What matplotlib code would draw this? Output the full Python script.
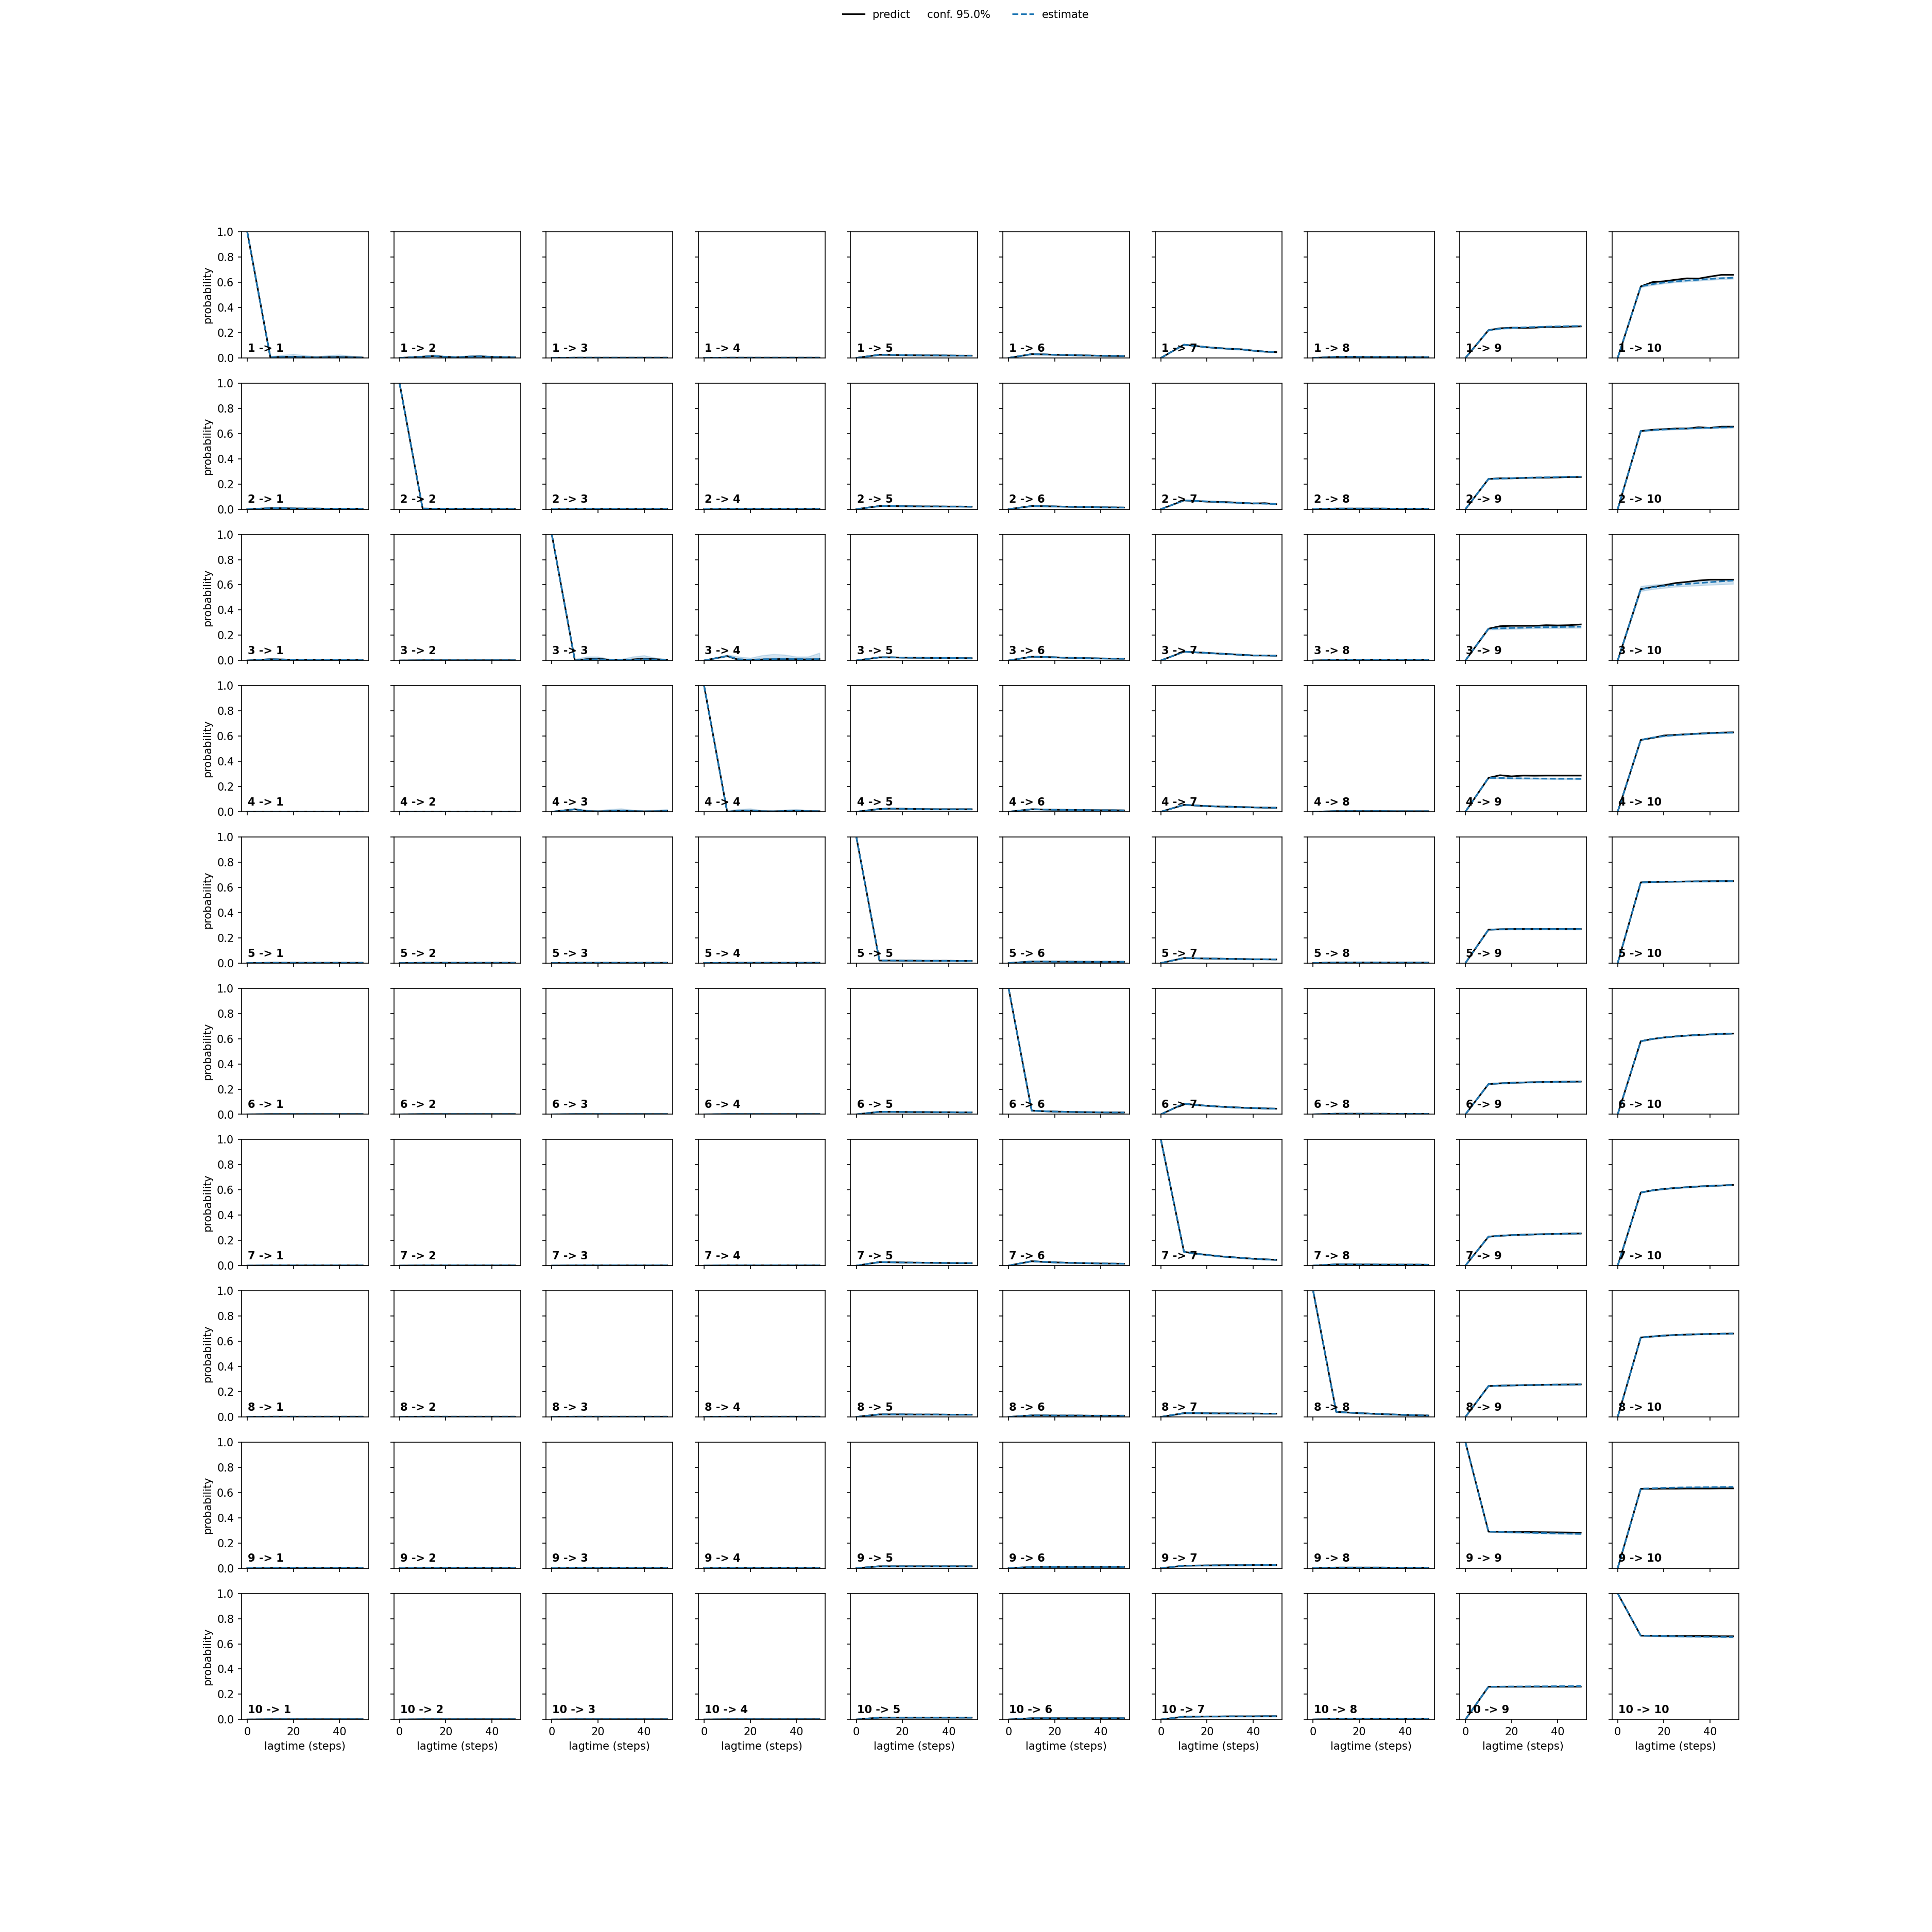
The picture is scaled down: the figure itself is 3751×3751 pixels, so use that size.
import matplotlib
matplotlib.use('Agg')
import matplotlib.pyplot as plt

############################################
#   data
############################################
lagtimes = [0, 10, 15, 20, 25, 30, 35, 40, 45, 50]

near0 = [0, 0.002, 0.002, 0.002, 0.002, 0.002, 0.002, 0.002, 0.002, 0.002]
low005 = [0, 0.005, 0.005, 0.005, 0.005, 0.005, 0.004, 0.004, 0.004, 0.004]
low010 = [0, 0.01, 0.01, 0.01, 0.01, 0.01, 0.01, 0.01, 0.01, 0.01]
low015 = [0, 0.015, 0.015, 0.015, 0.015, 0.015, 0.015, 0.015, 0.015, 0.015]

# predicted probabilities, one row per start state, one list per target state
predict_1 = [
    [1, 0.005, 0.008, 0.01, 0.006, 0.004, 0.006, 0.008, 0.005, 0.003],
    [0, 0.01, 0.015, 0.008, 0.005, 0.01, 0.012, 0.008, 0.006, 0.005],
    near0,
    near0,
    [0, 0.025, 0.024, 0.022, 0.021, 0.02, 0.02, 0.019, 0.018, 0.018],
    [0, 0.03, 0.028, 0.025, 0.023, 0.021, 0.019, 0.017, 0.016, 0.015],
    [0, 0.105, 0.095, 0.085, 0.078, 0.072, 0.068, 0.058, 0.05, 0.046],
    [0, 0.008, 0.009, 0.008, 0.007, 0.007, 0.007, 0.006, 0.006, 0.006],
    [0, 0.22, 0.235, 0.24, 0.238, 0.24, 0.245, 0.245, 0.248, 0.25],
    [0, 0.567, 0.601, 0.608, 0.62, 0.631, 0.629, 0.645, 0.659, 0.659],
]
predict_2 = [
    [0, 0.008, 0.008, 0.006, 0.005, 0.005, 0.004, 0.004, 0.004, 0.004],
    [1, 0.005, 0.004, 0.004, 0.003, 0.003, 0.003, 0.002, 0.002, 0.002],
    near0,
    near0,
    [0, 0.025, 0.025, 0.024, 0.023, 0.022, 0.022, 0.021, 0.021, 0.02],
    [0, 0.025, 0.024, 0.022, 0.02, 0.018, 0.017, 0.015, 0.014, 0.013],
    [0, 0.07, 0.065, 0.06, 0.058, 0.055, 0.05, 0.045, 0.048, 0.04],
    low005,
    [0, 0.24, 0.245, 0.245, 0.248, 0.25, 0.25, 0.252, 0.255, 0.255],
    [0, 0.62, 0.63, 0.635, 0.64, 0.64, 0.65, 0.645, 0.655, 0.655],
]
predict_3 = [
    [0, 0.01, 0.008, 0.006, 0.005, 0.004, 0.004, 0.003, 0.003, 0.003],
    near0,
    [1, 0.0, 0.01, 0.015, 0.005, 0.003, 0.008, 0.015, 0.01, 0.005],
    [0, 0.035, 0.005, 0.003, 0.008, 0.01, 0.012, 0.01, 0.008, 0.012],
    [0, 0.025, 0.025, 0.023, 0.022, 0.021, 0.02, 0.02, 0.019, 0.018],
    [0, 0.03, 0.028, 0.025, 0.022, 0.02, 0.018, 0.016, 0.015, 0.014],
    [0, 0.07, 0.065, 0.06, 0.055, 0.05, 0.045, 0.04, 0.04, 0.038],
    low005,
    [0, 0.252, 0.272, 0.275, 0.275, 0.275, 0.28, 0.278, 0.28, 0.286],
    [0, 0.566, 0.582, 0.596, 0.614, 0.623, 0.634, 0.641, 0.641, 0.641],
]
predict_4 = [
    near0,
    near0,
    [0, 0.02, 0.005, 0.003, 0.005, 0.008, 0.005, 0.003, 0.004, 0.006],
    [1, 0.0, 0.008, 0.01, 0.004, 0.003, 0.006, 0.008, 0.005, 0.004],
    [0, 0.022, 0.025, 0.024, 0.022, 0.021, 0.02, 0.02, 0.02, 0.02],
    [0, 0.02, 0.018, 0.016, 0.015, 0.014, 0.013, 0.012, 0.012, 0.011],
    [0, 0.055, 0.05, 0.045, 0.042, 0.04, 0.037, 0.035, 0.033, 0.032],
    low005,
    [0, 0.269, 0.29, 0.281, 0.287, 0.286, 0.287, 0.287, 0.287, 0.287],
    [0, 0.57, 0.585, 0.605, 0.61, 0.615, 0.62, 0.625, 0.628, 0.63],
]
predict_5 = [
    near0, near0, near0, near0,
    [1, 0.02, 0.02, 0.019, 0.019, 0.018, 0.018, 0.018, 0.017, 0.017],
    [0, 0.012, 0.012, 0.011, 0.011, 0.01, 0.01, 0.01, 0.01, 0.01],
    [0, 0.04, 0.038, 0.036, 0.035, 0.033, 0.032, 0.03, 0.03, 0.029],
    low005,
    [0, 0.265, 0.268, 0.27, 0.27, 0.27, 0.27, 0.27, 0.27, 0.27],
    [0, 0.64, 0.643, 0.645, 0.646, 0.647, 0.648, 0.649, 0.65, 0.65],
]
predict_6 = [
    near0, near0, near0, near0,
    [0, 0.02, 0.02, 0.019, 0.018, 0.018, 0.017, 0.017, 0.016, 0.016],
    [1, 0.03, 0.025, 0.022, 0.02, 0.018, 0.017, 0.016, 0.015, 0.015],
    [0, 0.085, 0.075, 0.068, 0.062, 0.057, 0.053, 0.05, 0.047, 0.045],
    low005,
    [0, 0.24, 0.246, 0.25, 0.253, 0.255, 0.257, 0.258, 0.259, 0.26],
    [0, 0.58, 0.598, 0.61, 0.618, 0.625, 0.63, 0.634, 0.638, 0.641],
]
predict_7 = [
    near0, near0, near0, near0,
    [0, 0.028, 0.027, 0.025, 0.024, 0.023, 0.022, 0.021, 0.02, 0.02],
    [0, 0.035, 0.03, 0.026, 0.023, 0.021, 0.019, 0.017, 0.016, 0.015],
    [1, 0.11, 0.095, 0.085, 0.075, 0.068, 0.061, 0.055, 0.05, 0.046],
    [0, 0.01, 0.01, 0.009, 0.009, 0.008, 0.008, 0.008, 0.008, 0.007],
    [0, 0.23, 0.237, 0.242, 0.245, 0.248, 0.25, 0.252, 0.254, 0.255],
    [0, 0.58, 0.597, 0.608, 0.616, 0.622, 0.628, 0.632, 0.636, 0.64],
]
predict_8 = [
    near0, near0, near0, near0,
    [0, 0.02, 0.02, 0.02, 0.019, 0.019, 0.019, 0.018, 0.018, 0.018],
    [0, 0.012, 0.012, 0.011, 0.011, 0.011, 0.01, 0.01, 0.01, 0.01],
    [0, 0.03, 0.03, 0.029, 0.028, 0.028, 0.027, 0.027, 0.026, 0.026],
    [1, 0.04, 0.035, 0.03, 0.026, 0.022, 0.019, 0.016, 0.013, 0.011],
    [0, 0.245, 0.248, 0.25, 0.252, 0.253, 0.255, 0.256, 0.257, 0.258],
    [0, 0.63, 0.638, 0.645, 0.65, 0.653, 0.656, 0.658, 0.66, 0.661],
]
predict_9 = [
    near0, near0, near0, near0,
    low015,
    low010,
    [0, 0.02, 0.021, 0.022, 0.023, 0.024, 0.024, 0.025, 0.025, 0.025],
    low005,
    [1, 0.29, 0.289, 0.288, 0.287, 0.286, 0.285, 0.284, 0.283, 0.282],
    [0, 0.63, 0.63, 0.631, 0.631, 0.632, 0.632, 0.632, 0.633, 0.633],
]
predict_10 = [
    near0, near0, near0, near0,
    low015,
    low010,
    [0, 0.022, 0.023, 0.024, 0.024, 0.025, 0.025, 0.025, 0.026, 0.026],
    low005,
    [0, 0.26, 0.26, 0.26, 0.26, 0.26, 0.26, 0.26, 0.26, 0.26],
    [1, 0.665, 0.664, 0.663, 0.663, 0.662, 0.662, 0.661, 0.66, 0.66],
]
predict_rows = [predict_1, predict_2, predict_3, predict_4, predict_5,
                predict_6, predict_7, predict_8, predict_9, predict_10]

# estimates where they visibly differ from the prediction
estimate_diff = {
    (1, 1): [1, 0.005, 0.007, 0.008, 0.006, 0.004, 0.004, 0.005, 0.004, 0.003],
    (1, 9): [0, 0.22, 0.232, 0.238, 0.242, 0.245, 0.248, 0.25, 0.252, 0.253],
    (1, 10): [0, 0.567, 0.585, 0.598, 0.607, 0.614, 0.62, 0.627, 0.632, 0.636],
    (2, 7): [0, 0.07, 0.066, 0.062, 0.057, 0.053, 0.05, 0.047, 0.044, 0.041],
    (2, 9): [0, 0.24, 0.243, 0.246, 0.249, 0.251, 0.253, 0.255, 0.257, 0.258],
    (2, 10): [0, 0.62, 0.627, 0.632, 0.636, 0.64, 0.643, 0.646, 0.648, 0.65],
    (3, 3): [1, 0.0, 0.008, 0.01, 0.006, 0.004, 0.006, 0.01, 0.008, 0.005],
    (3, 4): [0, 0.035, 0.01, 0.006, 0.01, 0.012, 0.013, 0.012, 0.01, 0.013],
    (3, 9): [0, 0.252, 0.255, 0.258, 0.26, 0.263, 0.264, 0.265, 0.267, 0.268],
    (3, 10): [0, 0.566, 0.58, 0.59, 0.6, 0.607, 0.614, 0.621, 0.628, 0.634],
    (4, 9): [0, 0.269, 0.268, 0.266, 0.265, 0.264, 0.263, 0.262, 0.262, 0.261],
    (4, 10): [0, 0.57, 0.588, 0.6, 0.608, 0.614, 0.619, 0.623, 0.626, 0.628],
    (9, 9): [1, 0.29, 0.288, 0.285, 0.283, 0.28, 0.278, 0.276, 0.274, 0.272],
    (9, 10): [0, 0.63, 0.634, 0.637, 0.639, 0.641, 0.642, 0.643, 0.644, 0.645],
    (10, 9): [0, 0.26, 0.261, 0.262, 0.262, 0.263, 0.263, 0.264, 0.264, 0.265],
    (10, 10): [1, 0.665, 0.663, 0.661, 0.66, 0.658, 0.657, 0.656, 0.655, 0.654],
}

# wider confidence bands (lower, upper); the others are thin
conf_bands = {
    (1, 1): ([1, 0, 0, 0, 0, 0, 0, 0, 0, 0],
             [1, 0.012, 0.022, 0.03, 0.02, 0.01, 0.02, 0.025, 0.015, 0.008]),
    (1, 2): ([0, 0, 0, 0, 0, 0, 0, 0, 0, 0],
             [0, 0.015, 0.025, 0.015, 0.01, 0.02, 0.022, 0.015, 0.012, 0.01]),
    (1, 10): ([0, 0.56, 0.577, 0.59, 0.6, 0.606, 0.612, 0.619, 0.624, 0.628],
              [0, 0.574, 0.593, 0.606, 0.615, 0.622, 0.628, 0.635, 0.64, 0.644]),
    (3, 3): ([1, 0, 0, 0, 0, 0, 0, 0, 0, 0],
             [1, 0.01, 0.03, 0.03, 0.012, 0.01, 0.03, 0.04, 0.02, 0.01]),
    (3, 4): ([0, 0.03, 0, 0, 0, 0, 0, 0, 0, 0],
             [0, 0.045, 0.03, 0.02, 0.04, 0.05, 0.045, 0.03, 0.03, 0.06]),
    (3, 9): ([0, 0.245, 0.248, 0.25, 0.252, 0.255, 0.256, 0.257, 0.258, 0.259],
             [0, 0.26, 0.264, 0.267, 0.27, 0.272, 0.273, 0.274, 0.275, 0.277]),
    (3, 10): ([0, 0.55, 0.565, 0.575, 0.585, 0.59, 0.595, 0.6, 0.604, 0.607],
              [0, 0.59, 0.6, 0.607, 0.615, 0.625, 0.632, 0.638, 0.642, 0.645]),
    (4, 3): ([0, 0, 0, 0, 0, 0, 0, 0, 0, 0],
             [0, 0.025, 0.015, 0.01, 0.02, 0.025, 0.015, 0.01, 0.012, 0.02]),
    (4, 4): ([1, 0, 0, 0, 0, 0, 0, 0, 0, 0],
             [1, 0.01, 0.02, 0.025, 0.012, 0.01, 0.015, 0.02, 0.012, 0.01]),
}
thin_band = [0, 0.004, 0.004, 0.004, 0.004, 0.004, 0.004, 0.004, 0.004, 0.004]

confidence = 0.95
n_states = 10

############################################
#   figure
############################################
fig, axes = plt.subplots(n_states, n_states, sharex=True, sharey=True,
                         figsize=(25.0067, 25.0067))

for i in range(n_states):
    for j in range(n_states):
        ax = axes[i][j]
        key = (i + 1, j + 1)
        pred = predict_rows[i][j]
        est = estimate_diff.get(key, pred)
        if key in conf_bands:
            lo, hi = conf_bands[key]
        else:
            lo = [max(e - w, 0) for e, w in zip(est, thin_band)]
            hi = [e + w for e, w in zip(est, thin_band)]

        predref = ax.plot(lagtimes, pred, color='black', linestyle='-')
        ax.fill_between(lagtimes, lo, hi, alpha=0.2, color='C0')
        estref = ax.plot(lagtimes, est, color='C0', linestyle='--')
        ax.text(0.05, 0.05, str(i + 1) + ' -> ' + str(j + 1),
                transform=ax.transAxes, weight='bold')
        ax.set_ylim(0, 1)
        if j == 0:
            ax.set_ylabel('probability')
        if i == n_states - 1:
            ax.set_xlabel('lagtime (steps)')

predlabel = 'predict'
predlabel += '     conf. {:3.1f}%'.format(100.0 * confidence)
fig.legend((predref[0], estref[0]), (predlabel, 'estimate'),
           loc='upper center', ncol=2, frameon=False)

fig.savefig('out.png', dpi=150)
